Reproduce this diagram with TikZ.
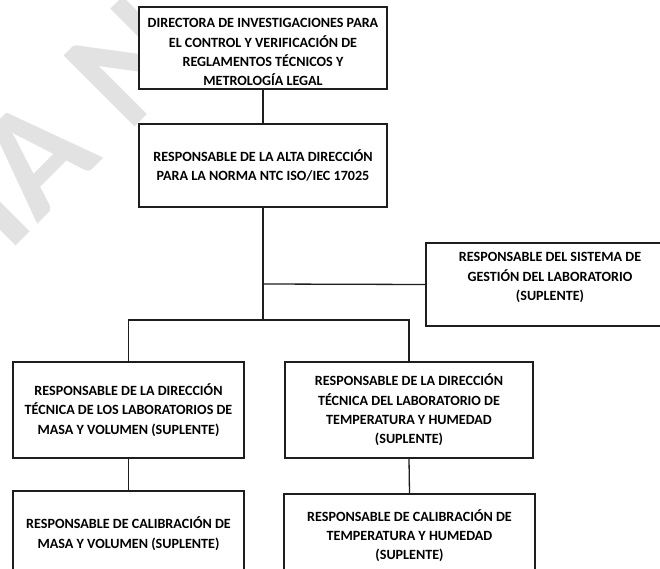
\documentclass[tikz,border=0pt]{standalone}
\usepackage{fontspec}
\setmainfont{Carlito}
\usepackage{tikz}
\usetikzlibrary{calc,positioning}
\definecolor{orgline}{HTML}{1E1E1E}
\definecolor{marcagris}{HTML}{E2E2E2}

\begin{document}
\begin{tikzpicture}[x=1pt, y=-1pt,
  cargo/.style={draw=orgline, line width=1.3pt, fill=white, align=center, inner sep=0pt, font=\bfseries\fontsize{14.1}{19.3}\selectfont},
  enlace/.style={draw=orgline, line width=1.3pt},
  marca/.style={text=marcagris, inner sep=0pt, font=\bfseries\fontsize{155}{155}\selectfont}
]
  \path[use as bounding box, clip] (0,0) rectangle (660,569);
  \fill[white] (0,0) rectangle (660,569);

  % watermark behind everything
  \node[marca, rotate=45, anchor=base west] (sello) at (8,254) {IA N};

  \coordinate (lado) at (263,284);
  \coordinate (reparto) at (263,320);

  \node[cargo, minimum width=248, minimum height=82] (directora) at (263,48) {\rule{0pt}{18pt}DIRECTORA DE INVESTIGACIONES PARA\\EL CONTROL Y VERIFICACIÓN DE\\REGLAMENTOS TÉCNICOS Y\\METROLOGÍA LEGAL};
  \node[cargo, minimum width=248, minimum height=83] (altadir) at (263,165.5) {RESPONSABLE DE LA ALTA DIRECCIÓN\\PARA LA NORMA NTC ISO/IEC 17025};
  \node[cargo, minimum width=248, minimum height=83] (sistema) at (550,284.5) {RESPONSABLE DEL SISTEMA DE\\GESTIÓN DEL LABORATORIO\\(SUPLENTE)\rule[-16pt]{0pt}{1pt}};

  \node[cargo, minimum width=231, minimum height=96] (dirmasa) at (128.5,410) {RESPONSABLE DE LA DIRECCIÓN\\TÉCNICA DE LOS LABORATORIOS DE\\MASA Y VOLUMEN (SUPLENTE)};
  \node[cargo, minimum width=248, minimum height=96] (dirtemp) at (409,410) {RESPONSABLE DE LA DIRECCIÓN\\TÉCNICA DEL LABORATORIO DE\\TEMPERATURA Y HUMEDAD\\(SUPLENTE)};

  \node[cargo, minimum width=231, minimum height=85] (calmasa) at (128.5,533.5) {RESPONSABLE DE CALIBRACIÓN DE\\MASA Y VOLUMEN (SUPLENTE)};
  \node[cargo, minimum width=251, minimum height=83] (caltemp) at (409.5,535.5) {RESPONSABLE DE CALIBRACIÓN DE\\TEMPERATURA Y HUMEDAD\\(SUPLENTE)};

  \draw[enlace] (directora.south) -- (altadir.north);
  \draw[enlace] (altadir.south) -- (reparto);
  \draw[enlace] (lado) -- (sistema.west);
  \draw[enlace] (reparto) -| (dirmasa.north);
  \draw[enlace] (reparto) -| (dirtemp.north);
  \draw[enlace] (dirmasa.south) -- (calmasa.north);
  \draw[enlace] (dirtemp.south) -- (caltemp.north);
\end{tikzpicture}
\end{document}
